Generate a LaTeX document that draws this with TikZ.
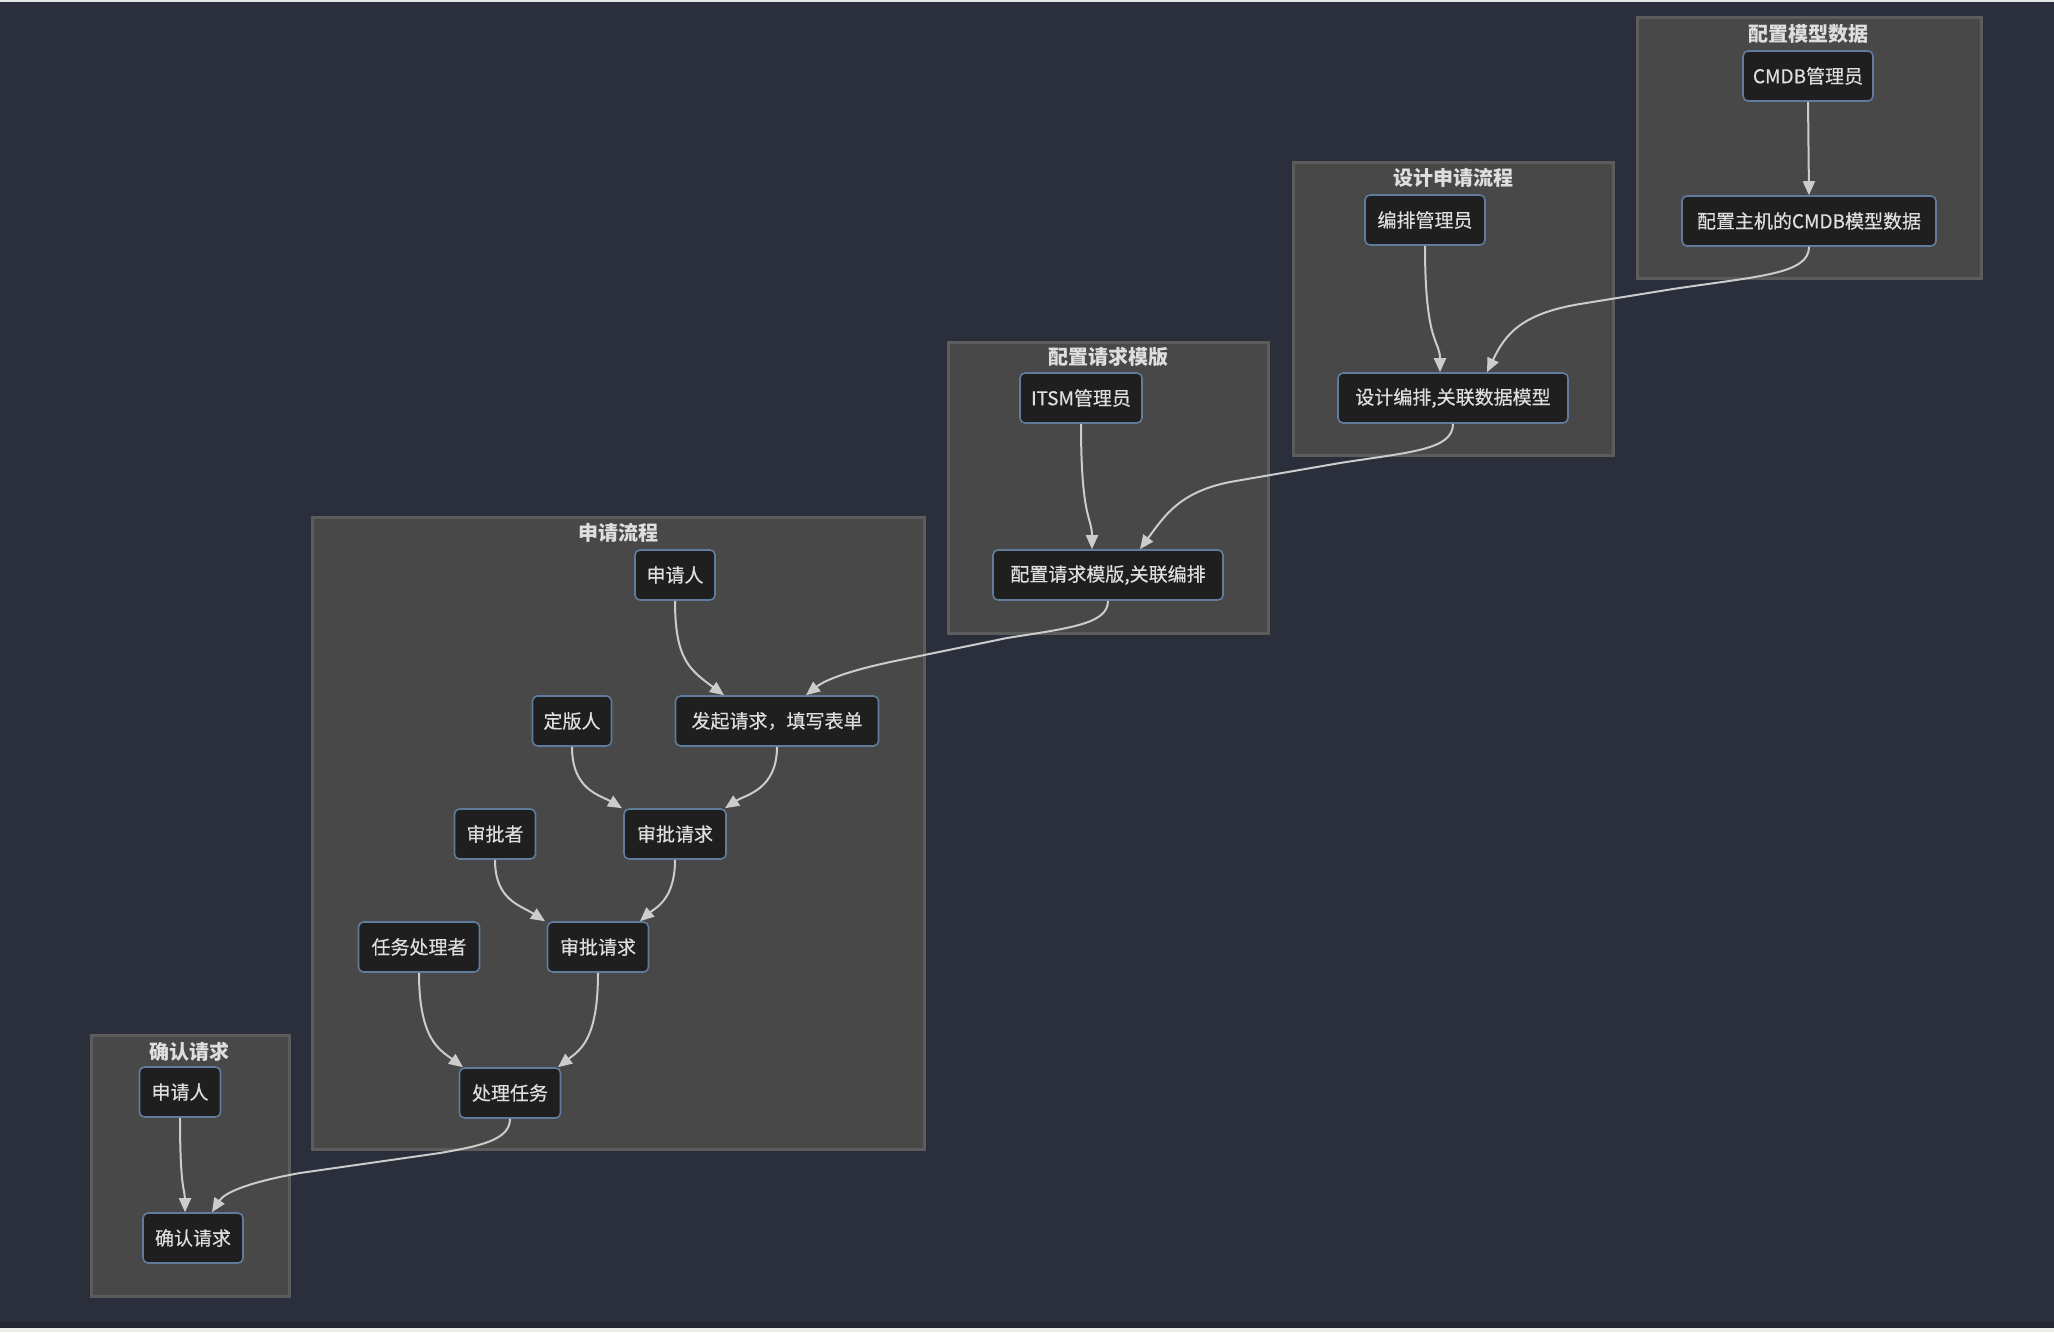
\documentclass[tikz,border=0pt]{standalone}
\usepackage{fontspec}
\setmainfont{Noto Sans CJK SC}
\newfontfamily\nodefont[FakeBold=0.35]{Noto Sans CJK SC}
\usetikzlibrary{arrows.meta,calc}
\definecolor{bg}{HTML}{2B2F3B}
\definecolor{topstrip}{HTML}{E4E4E4}
\definecolor{botdark}{HTML}{23262F}
\definecolor{botlight}{HTML}{EEECE8}
\definecolor{clfill}{HTML}{484848}
\definecolor{cldraw}{HTML}{5C5C5C}
\definecolor{nodefill}{HTML}{1F1F1F}
\definecolor{nodedraw}{HTML}{5F7C9C}
\definecolor{txt}{HTML}{DEDEDE}
\definecolor{edge}{HTML}{CCCCCC}
\tikzset{
  cluster/.style={fill=clfill, draw=cldraw, line width=1.5pt},
  ctitle/.style={text=txt, font=\fontsize{10pt}{12pt}\selectfont\bfseries, inner sep=0pt},
  box/.style={rounded corners=2.5pt, fill=nodefill, draw=nodedraw, line width=0.8pt,
    text=txt, font=\nodefont\fontsize{9.5pt}{10pt}\selectfont, minimum height=25pt, inner xsep=3pt, inner ysep=2pt},
  conn/.style={draw=edge, line width=1pt, -{Triangle[length=7pt,width=6pt]}}
}
\begin{document}
\begin{tikzpicture}[x=0.5pt,y=-0.5pt]
\useasboundingbox (0,0) rectangle (2054,1332);
\fill[bg] (0,0) rectangle (2054,1332);
\fill[topstrip] (0,0) rectangle (2054,2);
\fill[botdark] (0,1322) rectangle (2054,1328);
\fill[botlight] (0,1328) rectangle (2054,1332);

% clusters
\draw[cluster] (1637,18) rectangle (1981,278);
\node[ctitle] (t1) at (1808,34) {配置模型数据};
\draw[cluster] (1293,163) rectangle (1613,455);
\node[ctitle] (t2) at (1453,178) {设计申请流程};
\draw[cluster] (948,342) rectangle (1268,633);
\node[ctitle] (t3) at (1108,357) {配置请求模版};
\draw[cluster] (312,517) rectangle (924,1149);
\node[ctitle] (t4) at (618,533) {申请流程};
\draw[cluster] (91,1035) rectangle (289,1296);
\node[ctitle] (t5) at (189,1052) {确认请求};

% nodes
\node[box, minimum width=65pt] (cmdbAdmin) at (1808,76) {CMDB管理员};
\node[box, minimum width=127pt] (cmdbData) at (1809,221) {配置主机的CMDB模型数据};
\node[box, minimum width=60pt] (designAdmin) at (1425,220) {编排管理员};
\node[box, minimum width=115pt] (designFlow) at (1453,398) {设计编排,关联数据模型};
\node[box, minimum width=61pt] (itsmAdmin) at (1081,398) {ITSM管理员};
\node[box, minimum width=115pt] (tmpl) at (1108,575) {配置请求模版,关联编排};
\node[box, minimum width=40pt] (applicant) at (675,575) {申请人};
\node[box, minimum width=39.5pt] (finalizer) at (572,721) {定版人};
\node[box, minimum width=101.5pt] (submit) at (777,721) {发起请求，填写表单};
\node[box, minimum width=40.5pt] (approver) at (495,834) {审批者};
\node[box, minimum width=51pt] (approveA) at (675,834) {审批请求};
\node[box, minimum width=60.5pt] (handler) at (419,947) {任务处理者};
\node[box, minimum width=50.5pt] (approveB) at (598,947) {审批请求};
\node[box, minimum width=50.5pt] (process) at (510,1093) {处理任务};
\node[box, minimum width=40.5pt] (applicantB) at (180,1092) {申请人};
\node[box, minimum width=50pt] (confirm) at (193,1238) {确认请求};

% connectors
\draw[conn] (cmdbAdmin.south) -- (cmdbData.north);
\draw[conn] (designAdmin.south) .. controls (1425,345) and (1440,340) .. ($(designFlow.north)+(-13,0)$);
\draw[conn] (cmdbData.south) .. controls (1809,274) and (1760,276) .. (1673,289)
  -- (1580,304) .. controls (1520,314) and (1505,335) .. ($(designFlow.north)+(34,0)$);
\draw[conn] (itsmAdmin.south) .. controls (1081,520) and (1092,517) .. ($(tmpl.north)+(-16,0)$);
\draw[conn] (designFlow.south) .. controls (1453,450) and (1410,452) .. (1340,463)
  -- (1230,482) .. controls (1180,492) and (1165,515) .. ($(tmpl.north)+(32,0)$);
\draw[conn] (tmpl.south) .. controls (1108,624) and (1070,628) .. (1007,638)
  -- (900,660) .. controls (850,670) and (825,680) .. ($(submit.north)+(29,0)$);
\draw[conn] (applicant.south) .. controls (675,660) and (690,670) .. ($(submit.north)+(-53,0)$);
\draw[conn] (finalizer.south) .. controls (572,790) and (600,795) .. ($(approveA.north)+(-53,0)$);
\draw[conn] (submit.south) .. controls (777,790) and (745,795) .. ($(approveA.north)+(50,0)$);
\draw[conn] (approver.south) .. controls (495,900) and (520,905) .. ($(approveB.north)+(-53,0)$);
\draw[conn] (approveA.south) .. controls (675,900) and (655,908) .. ($(approveB.north)+(42,0)$);
\draw[conn] (handler.south) .. controls (419,1040) and (440,1050) .. ($(process.north)+(-47,0)$);
\draw[conn] (approveB.south) .. controls (598,1040) and (580,1050) .. ($(process.north)+(48,0)$);
\draw[conn] (process.south) .. controls (510,1140) and (480,1146) .. (440,1153)
  -- (300,1173) .. controls (250,1182) and (225,1192) .. ($(confirm.north)+(19,0)$);
\draw[conn] (applicantB.south) .. controls (180,1190) and (185,1190) .. ($(confirm.north)+(-8,0)$);
\end{tikzpicture}
\end{document}
